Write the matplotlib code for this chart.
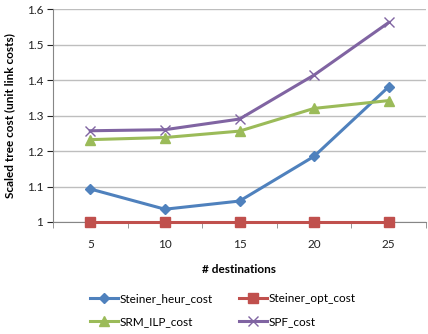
# Scaled multicast tree cost vs number of destinations
import matplotlib.pyplot as plt

destinations = ["5", "10", "15", "20", "25"]
steiner_heur = [1.093, 1.036, 1.059, 1.185, 1.381]
steiner_opt = [1.0, 1.0, 1.0, 1.0, 1.0]
srm_ilp = [1.232, 1.238, 1.256, 1.320, 1.342]
spf = [1.257, 1.260, 1.290, 1.414, 1.562]

plt.rcParams['font.family'] = ['Lato', 'DejaVu Sans']

fig = plt.figure(figsize=(4.28, 3.34), dpi=100)
ax = fig.add_axes([53 / 428, 1 - 222 / 334, 373 / 428, 213 / 334])

x = range(len(destinations))
h1, = ax.plot(x, steiner_heur, color="#4F81BD", lw=2.2, marker="D", ms=5, label="Steiner_heur_cost")
h2, = ax.plot(x, steiner_opt, color="#C0504D", lw=2.2, marker="s", ms=7, label="Steiner_opt_cost",
              clip_on=False, zorder=3)
h3, = ax.plot(x, srm_ilp, color="#9BBB59", lw=2.2, marker="^", ms=7, label="SRM_ILP_cost")
h4, = ax.plot(x, spf, color="#8064A2", lw=2.2, marker="x", ms=7, mew=1, label="SPF_cost")

ax.set_xlim(-0.5, 4.5)
ax.set_ylim(1.0, 1.6)
ax.set_yticks([1.0, 1.1, 1.2, 1.3, 1.4, 1.5, 1.6])
ax.set_yticklabels(["1", "1.1", "1.2", "1.3", "1.4", "1.5", "1.6"])
ax.set_xticks(list(x))
ax.set_xticklabels(destinations)
ax.set_xticks([i - 0.5 for i in range(6)], minor=True)
ax.tick_params(axis="x", which="major", length=0, pad=12)
ax.tick_params(axis="x", which="minor", length=4, color="#868686")
ax.tick_params(axis="y", length=4, color="#868686", pad=3)
ax.tick_params(labelsize=8.5, colors="#222222")
ax.grid(axis="y", color="#BEBEBE", lw=1)
ax.set_axisbelow(True)
for s in ["top", "right"]:
    ax.spines[s].set_visible(False)
for s in ["left", "bottom"]:
    ax.spines[s].set_color("#868686")

ax.set_xlabel("# destinations", fontsize=8.5, fontweight="bold", labelpad=10)
ax.set_ylabel("Scaled tree cost (unit link costs)", fontsize=8.5, fontweight="bold", labelpad=8)

# legend filled column-wise, so order gives heur/opt on the first row
ax.legend([h1, h3, h2, h4], [h.get_label() for h in (h1, h3, h2, h4)],
          loc="upper center", bbox_to_anchor=(0.455, -0.285), ncol=2, frameon=False,
          fontsize=8.5, handlelength=2.4, handletextpad=0.1, columnspacing=2.2,
          labelspacing=1.0)

fig.savefig("out.png", dpi=100)
